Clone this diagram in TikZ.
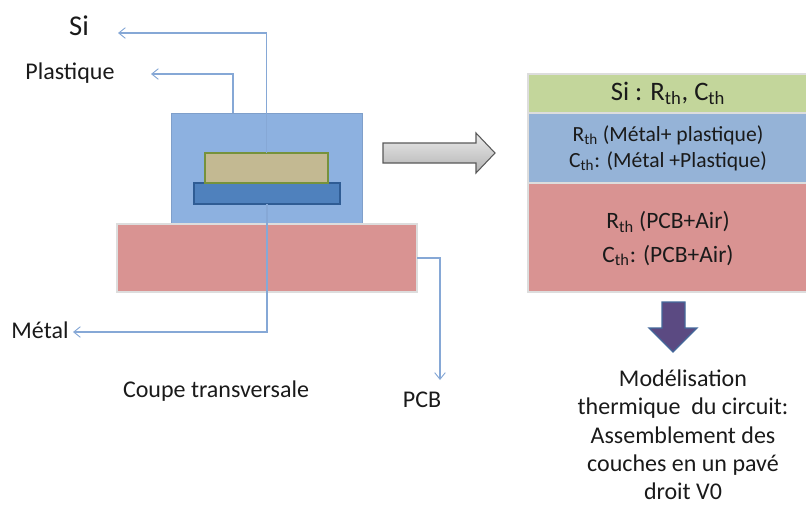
\documentclass[tikz,border=0pt]{standalone}
\usepackage{fontspec}
\setmainfont{Carlito}
\usetikzlibrary{arrows.meta,calc}
\definecolor{lineblue}{HTML}{86A8D6}
\definecolor{plasticblue}{HTML}{8DB1E0}
\definecolor{pcbred}{HTML}{D99392}
\definecolor{chipfill}{HTML}{C3B992}
\definecolor{chipedge}{HTML}{76923C}
\definecolor{metalfill}{HTML}{4F81BD}
\definecolor{metaledge}{HTML}{2F5C94}
\definecolor{edgegrey}{HTML}{DDDDDD}
\definecolor{sigreen}{HTML}{C3D69B}
\definecolor{stackblue}{HTML}{95B3D7}
\definecolor{txt}{HTML}{1A1A1A}
\definecolor{downfill}{HTML}{5B4A82}
\definecolor{downedge}{HTML}{44699B}
\tikzset{
  px/.style={x=0.75pt,y=-0.75pt},
  slab/.style={inner sep=0pt,outer sep=0pt,anchor=north west},
  lead/.style={draw=lineblue,line width=0.9pt,-{Straight Barb[length=5pt,width=8pt,line width=0.7pt]}},
  lbl/.style={text=txt,font=\fontsize{18}{20}\selectfont,inner sep=0pt,anchor=center},
  stacktext/.style={text=txt,align=center,inner sep=0pt,anchor=center},
}
\newcommand{\slabat}[7]{\node[slab,#7,minimum width=#3*0.75pt,minimum height=#4*0.75pt] (#5) at (#1,#2) {#6};}
\newcommand{\subs}[1]{\textsubscript{#1}}
\begin{document}
\begin{tikzpicture}[px]
\useasboundingbox (0,0) rectangle (806,504);
% cross-section
\slabat{171}{113}{191}{111}{plastic}{}{fill=plasticblue,draw=plasticblue!90!black,line width=0.3pt}
\slabat{117}{224}{300}{68}{pcb}{}{fill=pcbred,draw=edgegrey,line width=1pt}
\slabat{194}{183}{146}{21}{metal}{}{fill=metalfill,draw=metaledge,line width=1.2pt}
\slabat{205}{153}{123}{30}{chip}{}{fill=chipfill,draw=chipedge,line width=1.3pt}
% labels
\node[lbl,font=\fontsize{21.5}{24}\selectfont] (lsi) at (79,26) {Si};
\node[lbl] (lpl) at (70,73) {Plastique};
\node[lbl] (lme) at (40,330) {Métal};
\node[lbl] (lco) at (216,391) {Coupe transversale};
\node[lbl] (lpc) at (422,400) {PCB};
% leads
\coordinate (siend) at (118,33);
\coordinate (plend) at (151,74);
\coordinate (meend) at (73,332);
\coordinate (pcend) at (440,380);
\draw[lead] (chip.north) -- (chip.north |- siend) -- (siend);
\draw[lead] ($(plastic.north west)!0.325!(plastic.north east)$) |- (plend);
\draw[lead] (metal.south) -- (metal.south |- meend) -- (meend);
\draw[lead] (pcb.east) -| (pcend);
% block arrow
\path[draw=black!65,line width=0.8pt,top color=white!92!black,bottom color=black!30]
  (383,143) -- (476,143) -- (476,133) -- (495,153) -- (476,173) -- (476,163) -- (383,163) -- cycle;
% stack
\slabat{528}{74}{280}{39}{si}{Si : R\subs{th}, C\subs{th}}{fill=sigreen,draw=edgegrey,line width=0.9pt,text=txt,font=\fontsize{20}{22}\selectfont}
\slabat{528}{113.5}{280}{69}{mp}{}{fill=stackblue,draw=edgegrey,line width=0.9pt}
\slabat{528}{183.5}{280}{108.5}{air}{}{fill=pcbred,draw=edgegrey,line width=0.9pt}
\node[stacktext,font=\fontsize{16.2}{19.5}\selectfont] (mptext) at (mp.center) {R\subs{th} (Métal+ plastique)\\C\subs{th}: (Métal +Plastique)};
\node[stacktext,font=\fontsize{17.6}{25}\selectfont] (airtext) at ([yshift=-0.75pt]air.center) {R\subs{th} (PCB+Air)\\C\subs{th}: (PCB+Air)};
% down arrow
\path[fill=downfill,draw=downedge,line width=1pt] (649,328) -- (662,328) -- (662,302) -- (685,302) -- (685,328) -- (697,328) -- (673,352) -- cycle;
\node[stacktext,font=\fontsize{18}{21.2}\selectfont] (res) at (683,435) {Modélisation\\thermique~ du circuit:\\Assemblement des\\couches en un pavé\\droit V0};
\end{tikzpicture}
\end{document}
